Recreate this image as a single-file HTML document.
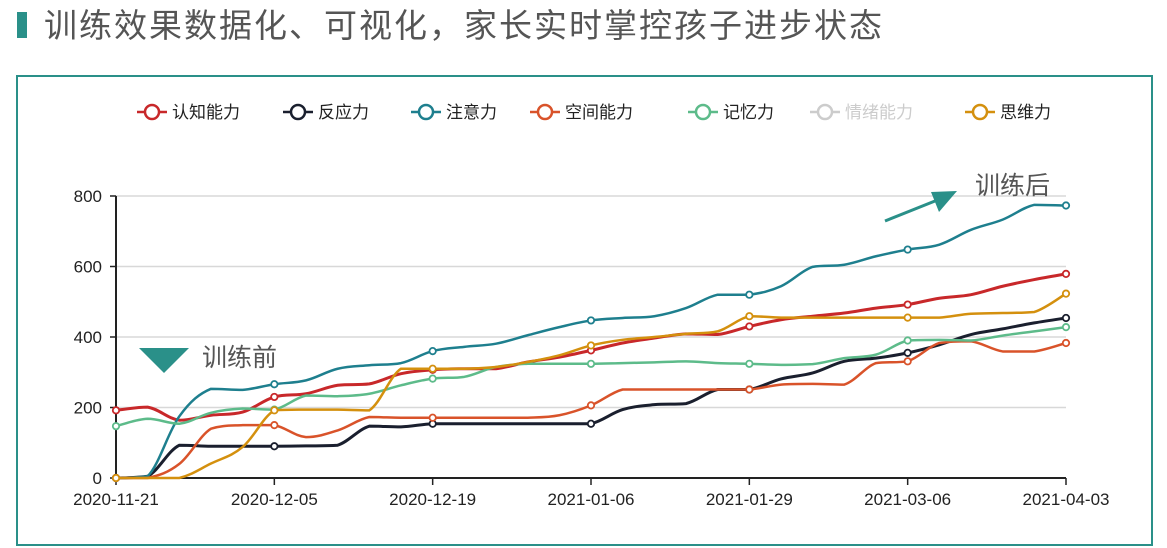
<!DOCTYPE html>
<html><head><meta charset="utf-8">
<style>
body{margin:0;width:1167px;height:548px;background:#fff;overflow:hidden;font-family:"Liberation Sans","Noto Sans CJK SC",sans-serif;}
#title-bar{position:absolute;left:17px;top:12px;width:10px;height:26px;background:#2a9089;}
#title{position:absolute;left:44px;top:-1px;font-size:33px;color:#555;letter-spacing:2px;white-space:nowrap;}
#frame{position:absolute;left:16px;top:75px;width:1133px;height:467px;border:2px solid #2a9089;box-sizing:content-box;}
svg{position:absolute;left:0;top:0;}
</style></head><body>
<div id="title-bar"></div>
<div id="title">训练效果数据化、可视化，家长实时掌控孩子进步状态</div>
<div id="frame"></div>
<svg id="chart" width="1167" height="548"></svg>
<script>
const categories=["2020-11-21","","","","","2020-12-05","","","","","2020-12-19","","","","","2021-01-06","","","","","2021-01-29","","","","","2021-03-06","","","","","2021-04-03"];
const yTicks=[0,200,400,600,800];
const seriesNames=["认知能力","反应力","注意力","空间能力","记忆力","情绪能力","思维力"];
const seriesColors=["#c8282a","#1a1f2e","#1e7f8e","#d9532a","#5dbb8a","#cccccc","#d4900e"];
const cognition=[192,201,164,178,187,230,239,263,267,296,307,310,310,329,343,362,383,397,409,407,430,449,459,468,482,492,510,520,544,563,579];
const reaction=[0,5,93,90,90,90,91,93,147,145,154,154,154,154,154,154,194,208,211,251,251,281,298,331,340,355,378,407,423,440,454];
const attention=[0,5,175,253,250,266,277,310,320,326,360,372,381,405,428,447,454,459,482,520,520,544,599,605,629,648,662,704,733,775,773];
const spatial=[0,0,40,140,150,150,116,135,173,171,171,171,171,171,178,206,251,251,251,251,251,265,267,265,326,331,383,388,359,359,383];
const memory=[147,168,154,185,197,194,234,232,239,263,282,287,315,324,324,324,326,328,331,326,324,321,323,340,350,390,392,390,404,416,428];
const thinking=[0,0,0,41,88,192,194,194,192,310,310,310,315,329,348,376,392,400,409,416,459,455,455,455,455,455,455,466,468,471,523];
const visibleSeries=[cognition,reaction,attention,spatial,memory,null,thinking];

const svg=document.getElementById('chart');
const NS='http://www.w3.org/2000/svg';
const X0=116,X1=1066,Y0=478,Y1=196,YMAX=800;
function xs(i){return X0+(X1-X0)*i/(categories.length-1);}
function ys(v){return Y0-(Y0-Y1)*v/YMAX;}
function mk(tag,attrs){const e=document.createElementNS(NS,tag);for(const k in attrs)e.setAttribute(k,attrs[k]);svg.appendChild(e);return e;}

yTicks.forEach(t=>{
  if(t>0){const g=mk('line',{x1:X0,x2:X1,y1:ys(t),y2:ys(t),stroke:'#d8d8d8','stroke-width':1.5});
  
  }
  const tk=mk('line',{x1:X0-6,x2:X0,y1:ys(t),y2:ys(t),stroke:'#222','stroke-width':1.5});
  
  
  const lb=mk('text',{x:X0-14,y:ys(t)+6,'text-anchor':'end','font-size':17,fill:'#222'});
  lb.textContent=t;
  
  
});
const ya=mk('line',{x1:X0,x2:X0,y1:Y1,y2:Y0,stroke:'#222','stroke-width':2});


const xa=mk('line',{x1:X0,x2:X1,y1:Y0,y2:Y0,stroke:'#222','stroke-width':2});


categories.forEach((c,i)=>{
  if(!c)return;
  const tk=mk('line',{x1:xs(i),x2:xs(i),y1:Y0,y2:Y0+7,stroke:'#222','stroke-width':1.5});
  
  
  const lb=mk('text',{x:xs(i),y:Y0+27,'text-anchor':'middle','font-size':17,fill:'#222'});
  lb.textContent=c;
  
  
});
function clamp(v,a,b){const lo=Math.min(a,b),hi=Math.max(a,b);return Math.max(lo,Math.min(hi,v));}
function smooth(pts){let d='M'+pts[0][0]+','+pts[0][1];
  for(let i=0;i<pts.length-1;i++){const p0=pts[i-1]||pts[i],p1=pts[i],p2=pts[i+1],p3=pts[i+2]||p2;const t=0.18;
    const c1y=clamp(p1[1]+(p2[1]-p0[1])*t,p1[1],p2[1]);
    const c2y=clamp(p2[1]-(p3[1]-p1[1])*t,p1[1],p2[1]);
    d+=' C'+(p1[0]+(p2[0]-p0[0])*t)+','+c1y+' '+(p2[0]-(p3[0]-p1[0])*t)+','+c2y+' '+p2[0]+','+p2[1];}
  return d;}
visibleSeries.forEach((s,k)=>{
  if(!s)return;
  const pts=s.map((v,i)=>[xs(i),ys(v)]);
  const p=mk('path',{d:smooth(pts),fill:'none',stroke:seriesColors[k],'stroke-width':k===0||k===1?3:2.5});
  
  
  s.forEach((v,i)=>{ if(i%5!==0)return;
    const c=mk('circle',{cx:xs(i),cy:ys(v),r:3.2,fill:'#fff',stroke:seriesColors[k],'stroke-width':1.8});
    
    
  });
});
const legX=[137,283,411,530,688,810,965];
seriesNames.forEach((n,k)=>{
  const col=seriesColors[k],x=legX[k],y=112;
  const l=mk('line',{x1:x,x2:x+30,y1:y,y2:y,stroke:col,'stroke-width':2.5});
  
  
  const c=mk('circle',{cx:x+15,cy:y,r:7,fill:'#fff',stroke:col,'stroke-width':2.5});
  
  
  const t=mk('text',{x:x+35,y:y+6,'font-size':17,fill:k===5?'#ccc':'#222'});
  t.textContent=n;
  
  
});
const tri=mk('polygon',{points:'139,348 189,348 164,373',fill:'#2a9089'});


const bt=mk('text',{x:202,y:366,'font-size':25,fill:'#555'});
bt.textContent='训练前';


const ar=mk('line',{x1:885,y1:221,x2:940,y2:199,stroke:'#2a9089','stroke-width':3});


const ah=mk('polygon',{points:'957,191 931,192 939,212',fill:'#2a9089'});


const at=mk('text',{x:975,y:194,'font-size':25,fill:'#555'});
at.textContent='训练后';


</script>
</body></html>
